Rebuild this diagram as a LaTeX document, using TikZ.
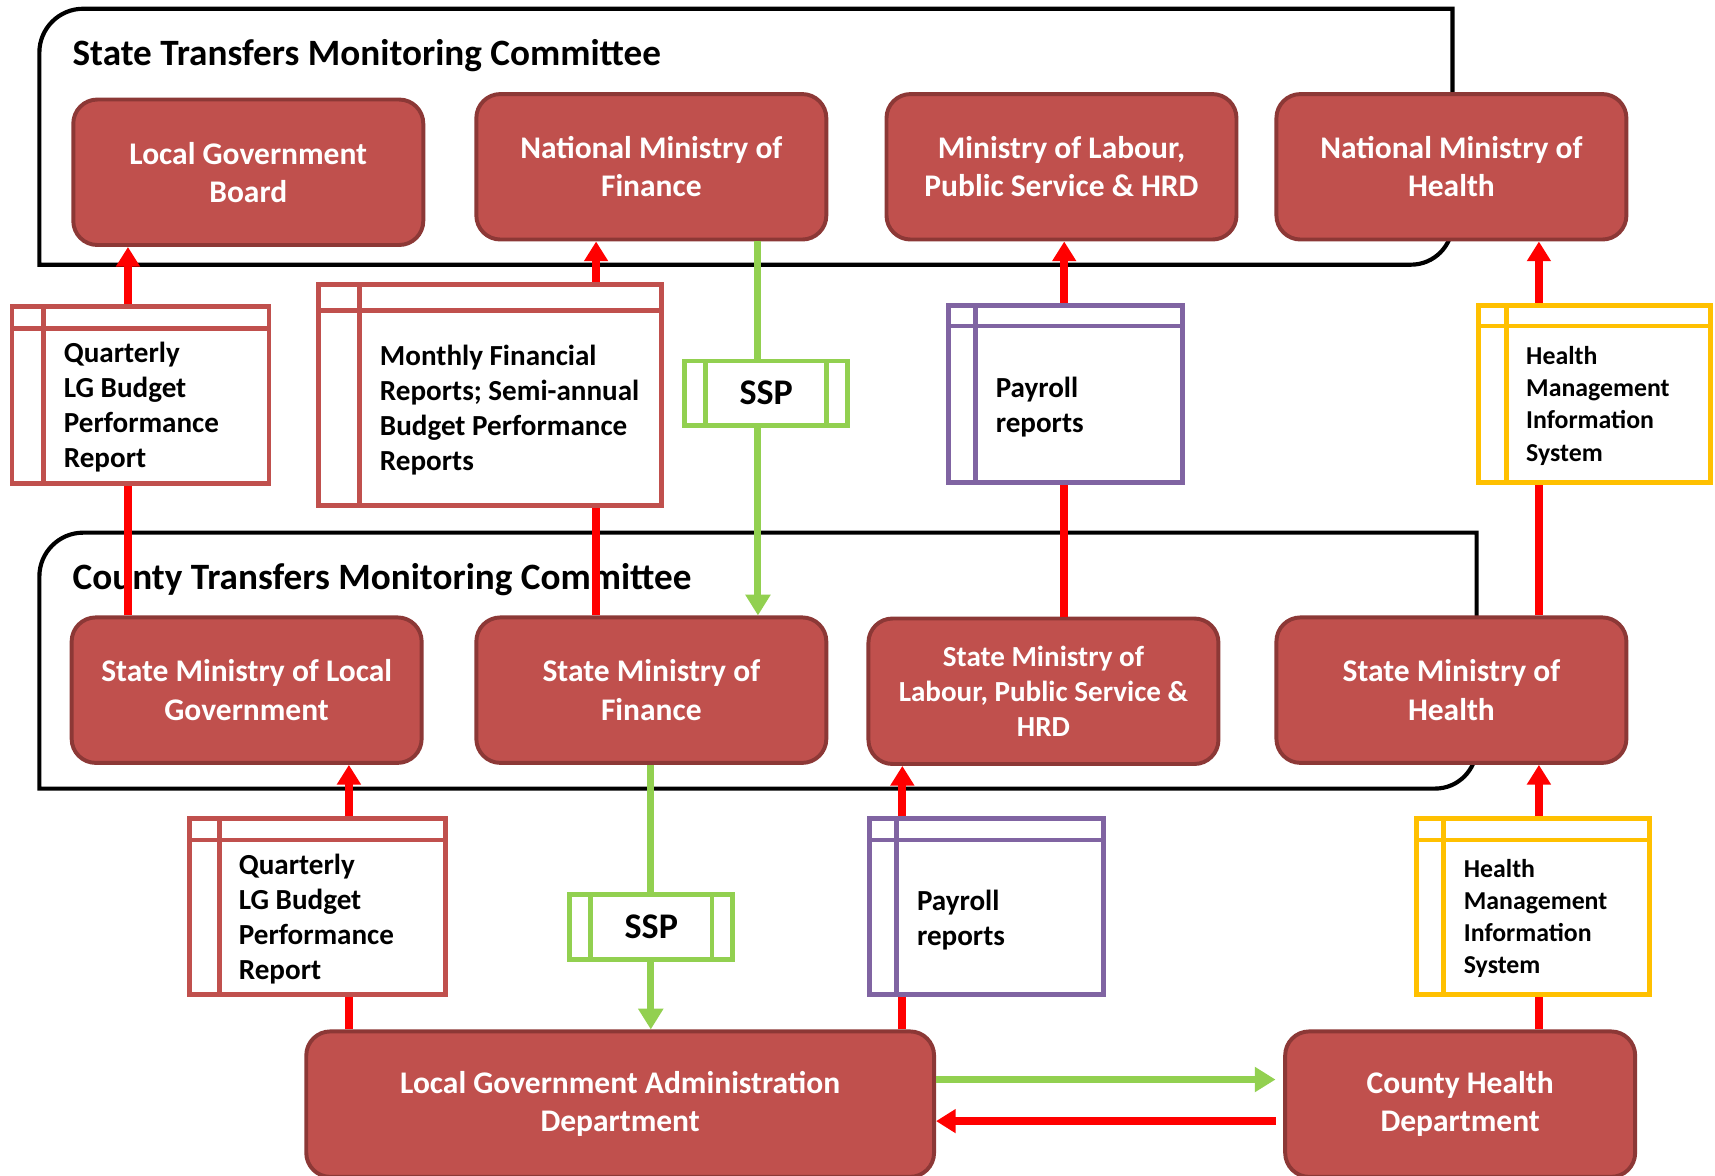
\documentclass[tikz,border=0pt]{standalone}
\usepackage{fontspec}
\setmainfont{Carlito}
\usetikzlibrary{arrows.meta}
\definecolor{orgfill}{HTML}{C0504D}
\definecolor{orgline}{HTML}{8C3836}
\definecolor{docred}{HTML}{C0504D}
\definecolor{docpurple}{HTML}{8064A2}
\definecolor{docgold}{HTML}{FFC000}
\definecolor{sspgreen}{HTML}{92D050}
\definecolor{flowred}{HTML}{FF0000}
\tikzset{
  orgbox/.style={draw=orgline, fill=orgfill, line width=1.8pt, rounded corners=11pt, text=white, align=center,
    minimum width=160pt, minimum height=66.5pt, font=\fontsize{14.4}{17.5}\selectfont\bfseries},
  docbox/.style n args={3}{draw=#1, fill=white, line width=2.2pt, inner sep=0pt,
    path picture={
      \draw[#1, line width=2.2pt] ([yshift=-#2]path picture bounding box.north west) -- ([yshift=-#2]path picture bounding box.north east);
      \draw[#1, line width=2.2pt] ([xshift=#3]path picture bounding box.north west) -- ([xshift=#3]path picture bounding box.south west);}},
  sspbox/.style={draw=sspgreen, fill=white, line width=2.2pt, minimum width=74.5pt, minimum height=29.5pt,
    font=\fontsize{16.5}{19}\selectfont\bfseries,
    path picture={
      \draw[sspgreen, line width=2.2pt] ([xshift=9.5pt]path picture bounding box.north west) -- ([xshift=9.5pt]path picture bounding box.south west);
      \draw[sspgreen, line width=2.2pt] ([xshift=-9.5pt]path picture bounding box.north east) -- ([xshift=-9.5pt]path picture bounding box.south east);}},
  doctext/.style={anchor=west, align=left, inner sep=0pt, font=\fontsize{13.3}{16}\selectfont\bfseries},
  hmistext/.style={doctext, font=\fontsize{11.8}{14.7}\selectfont\bfseries},
  frame/.style={line width=1.9pt},
  frametitle/.style={anchor=base west, inner sep=0pt, font=\fontsize{17}{20}\selectfont\bfseries},
  redflow/.style={flowred, line width=3.6pt, -{Triangle[length=9pt,width=10.5pt]}},
  greenflow/.style={sspgreen, line width=3.2pt, -{Triangle[length=9.5pt,width=11pt]}}
}
\begin{document}
\begin{tikzpicture}[x=0.5pt, y=-0.5pt]
    \useasboundingbox (0,0) rectangle (1568,1075);
    \draw[frame] (36,242) -- (36,48) .. controls (36,26) and (54,8) .. (76,8) -- (1328,8) -- (1328,204) .. controls (1328,225) and (1311,242) .. (1290,242) -- cycle;
    \draw[frame] (36,721) -- (36,527) .. controls (36,505) and (54,487) .. (76,487) -- (1350,487) -- (1350,683) .. controls (1350,704) and (1333,721) .. (1312,721) -- cycle;
    \node[frametitle] (statetitle) at (66,60) {State Transfers Monitoring Committee};
    \node[frametitle] (countytitle) at (66,539) {County Transfers Monitoring Committee};

    \node[orgbox] (lgb) at (227,157.5) {Local Government\\Board};
    \node[orgbox] (nmof) at (595.5,152.5) {National Ministry of\\Finance};
    \node[orgbox] (mol) at (970.5,152.5) {Ministry of Labour,\\Public Service \& HRD};
    \node[orgbox] (nmoh) at (1327,152.5) {National Ministry of\\Health};
    \node[orgbox] (smlg) at (225.5,631) {State Ministry of Local\\Government};
    \node[orgbox] (smof) at (595.5,631) {State Ministry of\\Finance};
    \node[orgbox, font=\fontsize{13.3}{16}\selectfont\bfseries] (smol) at (954,632) {State Ministry of\\Labour, Public Service \&\\HRD};
    \node[orgbox] (smoh) at (1327,631) {State Ministry of\\Health};
    \node[orgbox, minimum width=287pt] (lgad) at (567,1009.5) {Local Government Administration\\Department};
    \node[orgbox] (chd) at (1335,1009.5) {County Health\\Department};

    \coordinate (lgx) at (117,0);
    \coordinate (finx) at (545,0);
    \coordinate (sspx) at (693,0);
    \coordinate (labx) at (973,0);
    \coordinate (hlthx) at (1407,0);
    \coordinate (lgdnx) at (319,0);
    \coordinate (findnx) at (595,0);
    \coordinate (labdnx) at (825,0);
    \coordinate (fwdy) at (0,987);
    \coordinate (backy) at (0,1025);

    \draw[redflow] (smlg.north -| lgx) -- (lgb.south -| lgx);
    \draw[redflow] (smof.north -| finx) -- (nmof.south -| finx);
    \draw[redflow] (smol.north -| labx) -- (mol.south -| labx);
    \draw[redflow] (smoh.north -| hlthx) -- (nmoh.south -| hlthx);
    \draw[greenflow] (nmof.south -| sspx) -- (smof.north -| sspx);
    \draw[redflow] (lgad.north -| lgdnx) -- (smlg.south -| lgdnx);
    \draw[greenflow] (smof.south -| findnx) -- (lgad.north -| findnx);
    \draw[redflow] (lgad.north -| labdnx) -- (smol.south -| labdnx);
    \draw[redflow] (chd.north -| hlthx) -- (smoh.south -| hlthx);
    \draw[greenflow, shorten >=3.5pt] (lgad.east |- fwdy) -- (chd.west |- fwdy);
    \draw[redflow, shorten <=3.5pt] (chd.west |- backy) -- (lgad.east |- backy);

    \node[docbox={docred}{10pt}{14.5pt}, minimum width=117.5pt, minimum height=81pt] (qrtup) at (128.5,361) {};
    \node[docbox={docred}{12pt}{19pt}, minimum width=157pt, minimum height=101pt] (mfrup) at (448,361) {};
    \node[sspbox] (sspup) at (700.5,359.5) {SSP};
    \node[docbox={docpurple}{9.5pt}{12.5pt}, minimum width=107pt, minimum height=81pt] (payup) at (974,360) {};
    \node[docbox={docgold}{9.5pt}{12.5pt}, minimum width=106pt, minimum height=81pt] (hmisup) at (1458,360) {};
    \node[docbox={docred}{10pt}{13.8pt}, minimum width=117pt, minimum height=80.5pt] (qrtdn) at (290,828.5) {};
    \node[sspbox] (sspdn) at (595.5,847.5) {SSP};
    \node[docbox={docpurple}{10pt}{12.5pt}, minimum width=107pt, minimum height=80.5pt] (paydn) at (902,828.5) {};
    \node[docbox={docgold}{10pt}{12.3pt}, minimum width=106.5pt, minimum height=80.5pt] (hmisdn) at (1401.5,828.5) {};

    \node[doctext] (qrtuptxt) at (58,372) {Quarterly\\LG Budget\\Performance\\Report};
    \node[doctext] (mfruptxt) at (347,374.5) {Monthly Financial\\Reports; Semi-annual\\Budget Performance\\Reports};
    \node[doctext] (payuptxt) at (910,372) {Payroll\\reports};
    \node[hmistext] (hmisuptxt) at (1395,371) {Health\\Management\\Information\\System};
    \node[doctext] (qrtdntxt) at (218,840) {Quarterly\\LG Budget\\Performance\\Report};
    \node[doctext] (paydntxt) at (838,841) {Payroll\\reports};
    \node[hmistext] (hmisdntxt) at (1338,839.5) {Health\\Management\\Information\\System};
\end{tikzpicture}
\end{document}
